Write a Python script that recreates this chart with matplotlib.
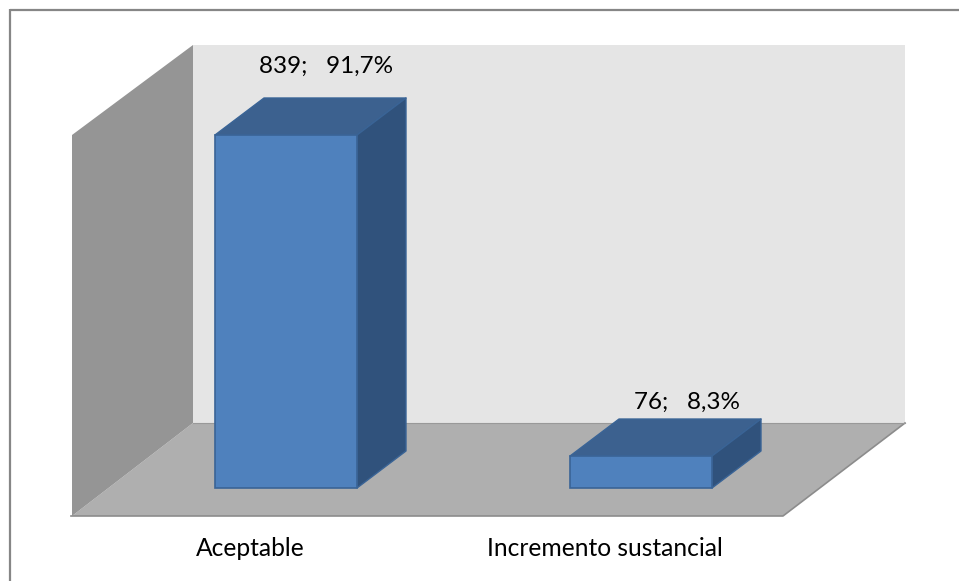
# -*- coding: utf-8 -*-
import matplotlib
matplotlib.use('Agg')
import matplotlib.pyplot as plt
from matplotlib.patches import Polygon, Rectangle

# Data
categories = ['Aceptable', 'Incremento sustancial']
counts = [839, 76]
percents = ['91,7%', '8,3%']

# Pixel layout of the oblique 3D look
px_per_unit = 353 / 839
bar_left = [215, 570]
bar_width = 142
bar_base = 488
depth_x, depth_y = 49, -37
label_x = [326.5, 687]
label_y = [66, 402]
name_x = [250.5, 605]

front_color = '#4f81bd'
top_color = '#3c618f'
side_color = '#30527c'
edge_color = '#3a6496'

plt.rcParams['font.family'] = ['Lato', 'DejaVu Sans']

fig = plt.figure(figsize=(9.59, 5.81), dpi=100)
ax = fig.add_axes([0, 0, 1, 1])
ax.set_xlim(0, 959)
ax.set_ylim(581, 0)
ax.axis('off')

# Outer frame, only the top and left edges show
ax.plot([10, 959], [9.5, 9.5], color='#868686', lw=1.6, solid_capstyle='butt')
ax.plot([10, 10], [8.5, 581], color='#868686', lw=1.6, solid_capstyle='butt')

# Back wall, floor and left wall
ax.add_patch(Polygon([(193, 45), (905, 45), (905, 423), (193, 423)], fc='#e5e5e5', ec='none'))
ax.add_patch(Polygon([(72, 516), (783, 516), (905, 423), (193, 423)], fc='#afafaf', ec='none'))
ax.add_patch(Polygon([(72, 135), (193, 45), (193, 423), (72, 516)], fc='#959595', ec='none'))
ax.plot([71, 783, 905], [516, 516, 423], color='#8c8c8c', lw=1.2)
ax.plot([193, 905], [423, 423], color='#999999', lw=0.8)

# Bars
for left, count in zip(bar_left, counts):
    right = left + bar_width
    top = bar_base - count * px_per_unit
    ax.add_patch(Polygon([(left, top), (right, top), (right + depth_x, top + depth_y), (left + depth_x, top + depth_y)],
                         fc=top_color, ec=edge_color, lw=1, joinstyle='round', zorder=3))
    ax.add_patch(Polygon([(right, top), (right + depth_x, top + depth_y), (right + depth_x, bar_base + depth_y), (right, bar_base)],
                         fc=side_color, ec=edge_color, lw=1, joinstyle='round', zorder=3))
    ax.add_patch(Rectangle((left, top), bar_width, bar_base - top, fc=front_color, ec=edge_color, lw=1.2, zorder=3))

# Data labels
for x, y, count, pct in zip(label_x, label_y, counts, percents):
    ax.text(x, y, f'{count};   {pct}', ha='center', va='center', fontsize=17.5, color='black', zorder=4)

# Category labels
for x, name in zip(name_x, categories):
    ax.text(x, 548, name, ha='center', va='center', fontsize=17.7, color='black')

fig.savefig('out.png', dpi=100)
